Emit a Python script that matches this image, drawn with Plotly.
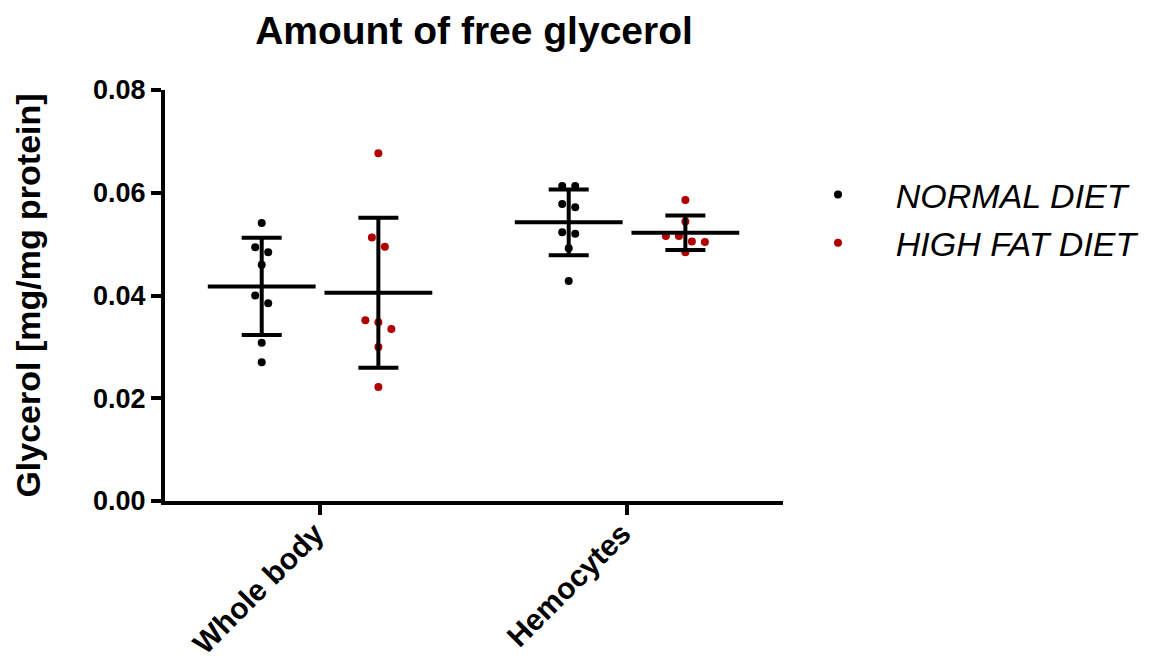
import numpy as np
import plotly.graph_objects as go

# ---------------- data ----------------
categories = ["Whole body", "Hemocytes"]
diets = ["NORMAL DIET", "HIGH FAT DIET"]
normal_whole_body = [0.0541, 0.0494, 0.0484, 0.0460, 0.0400, 0.0385, 0.0308, 0.0270]
normal_hemocytes = [0.0613, 0.0613, 0.0578, 0.0572, 0.0523, 0.0520, 0.0492, 0.0428]
highfat_whole_body = [0.0677, 0.0513, 0.0495, 0.0352, 0.0348, 0.0335, 0.0300, 0.0222]
highfat_hemocytes = [0.0586, 0.0544, 0.0516, 0.0516, 0.0505, 0.0504, 0.0484]
y_ticks = [0.00, 0.02, 0.04, 0.06, 0.08]
y_tick_labels = ["0.00", "0.02", "0.04", "0.06", "0.08"]

# ---------------- layout constants ----------------
W, H = 1154, 658
PAGE_OFF = 8  # default body margin of the html page
ML, MT = 165 - PAGE_OFF, 90 - PAGE_OFF
PLOT_W, PLOT_H = 618, 411
MR = W - ML - PLOT_W
MB = H - MT - PLOT_H
Y_RANGE = [0, 0.08]
X_RANGE = [-0.505, 1.508]
GROUP_SHIFT = 0.19
COLORS = {"NORMAL DIET": "#000000", "HIGH FAT DIET": "#b00000"}
FONT = "Liberation Sans, Arial, sans-serif"

ypx = PLOT_H / (Y_RANGE[1] - Y_RANGE[0])
xpx = PLOT_W / (X_RANGE[1] - X_RANGE[0])


def swarm(vals, row_px=10, step_px=13):
    """Simple beeswarm offsets (in x data units) from the values."""
    vals = np.asarray(vals, dtype=float)
    order = np.argsort(-vals, kind="stable")
    offs = np.zeros(len(vals))
    rows, cur = [], []
    for i in order:
        if cur and (vals[cur[0]] - vals[i]) * ypx >= row_px:
            rows.append(cur)
            cur = []
        cur.append(i)
    rows.append(cur)
    for r in rows:
        n = len(r)
        for k, i in enumerate(r):
            offs[i] = (k - (n - 1) / 2) * step_px / xpx
    return offs


groups = {
    "NORMAL DIET": [normal_whole_body, normal_hemocytes],
    "HIGH FAT DIET": [highfat_whole_body, highfat_hemocytes],
}
shift = {"NORMAL DIET": -GROUP_SHIFT, "HIGH FAT DIET": GROUP_SHIFT}

fig = go.Figure()

# points
for diet in diets:
    xs, ys = [], []
    for ci, vals in enumerate(groups[diet]):
        offs = swarm(vals)
        xs += list(ci + shift[diet] + offs)
        ys += list(vals)
    fig.add_trace(go.Scatter(
        x=xs, y=ys, mode="markers", name="\u00a0\u00a0\u00a0\u00a0" + diet,
        legendgroup=diet,
        marker=dict(color=COLORS[diet], size=8),
        cliponaxis=False,
    ))

# mean +/- SD
for diet in diets:
    for ci, vals in enumerate(groups[diet]):
        arr = np.asarray(vals)
        m = arr.mean()
        sd = arr.std(ddof=1)
        fig.add_trace(go.Scatter(
            x=[ci + shift[diet]], y=[m], mode="markers", showlegend=False,
            hoverinfo="skip",
            marker=dict(symbol="line-ew", size=77, color="black",
                        line=dict(width=4, color="black")),
            error_y=dict(type="data", array=[sd], symmetric=True,
                         thickness=4, width=20, color="black"),
            cliponaxis=False,
        ))

fig.update_layout(
    width=W, height=H,
    margin=dict(l=ML, r=MR, t=MT, b=MB, autoexpand=False),
    paper_bgcolor="white", plot_bgcolor="white",
    font=dict(family=FONT, color="black"),
    title=dict(text="Amount of free glycerol", x=0.5, xanchor="center",
               xref="paper", y=1 - 22 / H, yanchor="middle", yref="container",
               font=dict(size=39, weight="bold", family=FONT, color="black")),
    showlegend=True,
    legend=dict(
        x=(818 - PAGE_OFF) / W, xref="container", xanchor="left",
        y=1 - 158 / H, yref="container", yanchor="top",
        font=dict(size=34, style="italic", family=FONT, color="black"),
        bgcolor="rgba(0,0,0,0)", tracegroupgap=1,
    ),
    xaxis=dict(
        range=X_RANGE, tickmode="array", tickvals=[0, 1], ticktext=categories,
        tickangle=-45, showgrid=False, zeroline=False,
        showline=True, linewidth=4, linecolor="black",
        ticks="outside", ticklen=10, tickwidth=4, tickcolor="black",
        ticklabelstandoff=-11, ticklabelshift=-5,
        tickfont=dict(size=30, weight="bold", family=FONT, color="black"),
        automargin=False,
    ),
    yaxis=dict(
        range=Y_RANGE, tickmode="array", tickvals=y_ticks, ticktext=y_tick_labels,
        showgrid=False, zeroline=False,
        showline=True, linewidth=4, linecolor="black",
        ticks="outside", ticklen=10, tickwidth=4, tickcolor="black",
        tickfont=dict(size=27, weight="bold", family=FONT, color="black"),
        title=dict(text="Glycerol [mg/mg protein]", standoff=43,
                   font=dict(size=34, weight="bold", family=FONT, color="black")),
        automargin=False,
    ),
)

fig.write_html("out.html")
